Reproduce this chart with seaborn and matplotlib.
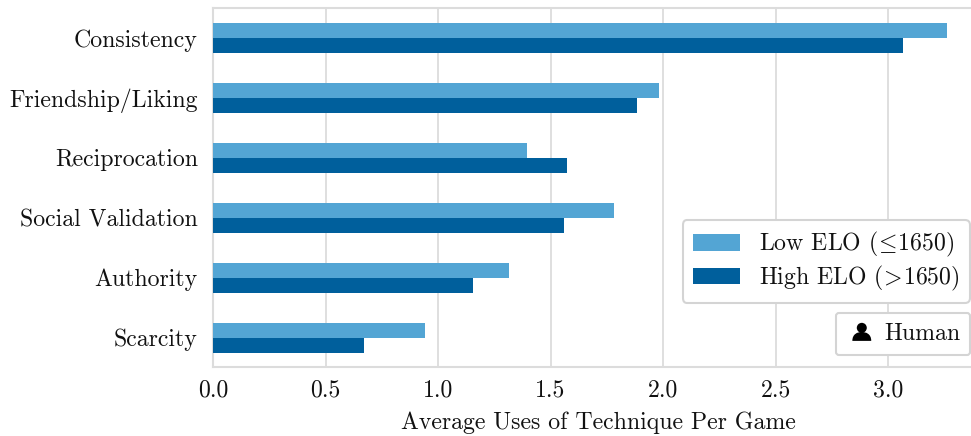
import matplotlib
matplotlib.use("Agg")
import matplotlib.pyplot as plt
import pandas as pd
import seaborn as sns
from matplotlib.offsetbox import AnchoredOffsetbox, DrawingArea, HPacker, TextArea
from matplotlib.patches import Circle, PathPatch
from matplotlib.path import Path

techniques = ["Consistency", "Friendship/Liking", "Reciprocation",
              "Social Validation", "Authority", "Scarcity"]
low_elo = [3.26, 1.98, 1.395, 1.78, 1.315, 0.94]
high_elo = [3.065, 1.885, 1.575, 1.56, 1.155, 0.67]
low_label = r"Low ELO ($\!\leq\!$1650)"
high_label = r"High ELO ($\!>\!$1650)"
x_label = "Average Uses of Technique Per Game"
badge_label = "Human"
x_ticks = [0.0, 0.5, 1.0, 1.5, 2.0, 2.5, 3.0]

LIGHT, DARK, EDGE, GRID = "#53A5D4", "#005F9C", "#D4D4D4", "#DCDCDC"
W, H = 971, 436
FS = 17.15

sns.set_theme(style="white")
plt.rcParams.update({
    "font.family": ["cmr10"],
    "mathtext.fontset": "cm",
    "axes.formatter.use_mathtext": True,
    "axes.unicode_minus": False,
    "text.color": "#111111",
})

df = pd.DataFrame({
    "technique": techniques * 2,
    "uses": low_elo + high_elo,
    "group": [low_label] * len(techniques) + [high_label] * len(techniques),
})

fig = plt.figure(figsize=(W / 100, H / 100), dpi=100)
ax = fig.add_axes([213 / W, 1 - 367 / H, (W - 213) / W, (367 - 8) / H])
sns.barplot(data=df, y="technique", x="uses", hue="group", order=techniques,
            hue_order=[low_label, high_label], palette=[LIGHT, DARK],
            width=0.5, gap=0, saturation=1, orient="h", errorbar=None, ax=ax, zorder=3,
            linewidth=0, edgecolor="none")

ax.set_xlim(0, 3.368)
ax.set_ylim(5.49, -0.5)
ax.set_xticks(x_ticks)
ax.set_xticklabels([f"{t:.1f}" for t in x_ticks])
ax.set_xlabel(x_label, fontsize=FS, labelpad=7, color="#111111", x=0.508)
ax.set_ylabel("")
ax.tick_params(axis="both", labelsize=FS, length=0, labelcolor="#111111")
ax.tick_params(axis="x", pad=9)
ax.tick_params(axis="y", pad=11)
ax.grid(axis="x", color=GRID, linewidth=1.3, zorder=0)
ax.set_axisbelow(True)
for side in ["left", "top", "bottom"]:
    ax.spines[side].set_color(GRID)
    ax.spines[side].set_linewidth(1.5)
ax.spines["right"].set_visible(False)

handles, labels = ax.get_legend_handles_labels()
leg = ax.legend(handles, labels, loc="lower right", fontsize=FS, frameon=True,
                bbox_to_anchor=(970 / W, 1 - 303 / H), bbox_transform=fig.transFigure,
                borderaxespad=0, borderpad=0.42, handlelength=2.0, handletextpad=0.8,
                labelspacing=0.2, fancybox=True, framealpha=1)
leg.get_frame().set_edgecolor(EDGE)
leg.get_frame().set_linewidth(1.5)
leg.set_zorder(6)

icon = DrawingArea(27.5, 15, 0, 0)
icon.add_artist(Circle((11.6, 11.9), 3.6, fc="black", ec="none"))
body = Path([(4.8, 2.5), (4.8, 7.5), (8.5, 8.9), (11.6, 8.9), (14.7, 8.9), (18.4, 7.5), (18.4, 2.5),
             (4.8, 2.5)],
            [Path.MOVETO, Path.CURVE4, Path.CURVE4, Path.CURVE4, Path.CURVE4, Path.CURVE4, Path.CURVE4,
             Path.CLOSEPOLY])
icon.add_artist(PathPatch(body, fc="black", ec="none"))
txt = TextArea(badge_label, textprops={"fontsize": FS, "color": "#111111"})
box = HPacker(children=[icon, txt], align="center", pad=0, sep=0)
badge = AnchoredOffsetbox(loc="lower right", child=box, pad=0.72, borderpad=0, frameon=True,
                          prop={"size": 10},
                          bbox_to_anchor=(970 / W, 1 - 355 / H), bbox_transform=fig.transFigure)
badge.patch.set_edgecolor(EDGE)
badge.patch.set_linewidth(1.5)
badge.patch.set_boxstyle("round,pad=0,rounding_size=0.25")
badge.set_zorder(6)
ax.add_artist(badge)

fig.savefig("out.png", dpi=100)
